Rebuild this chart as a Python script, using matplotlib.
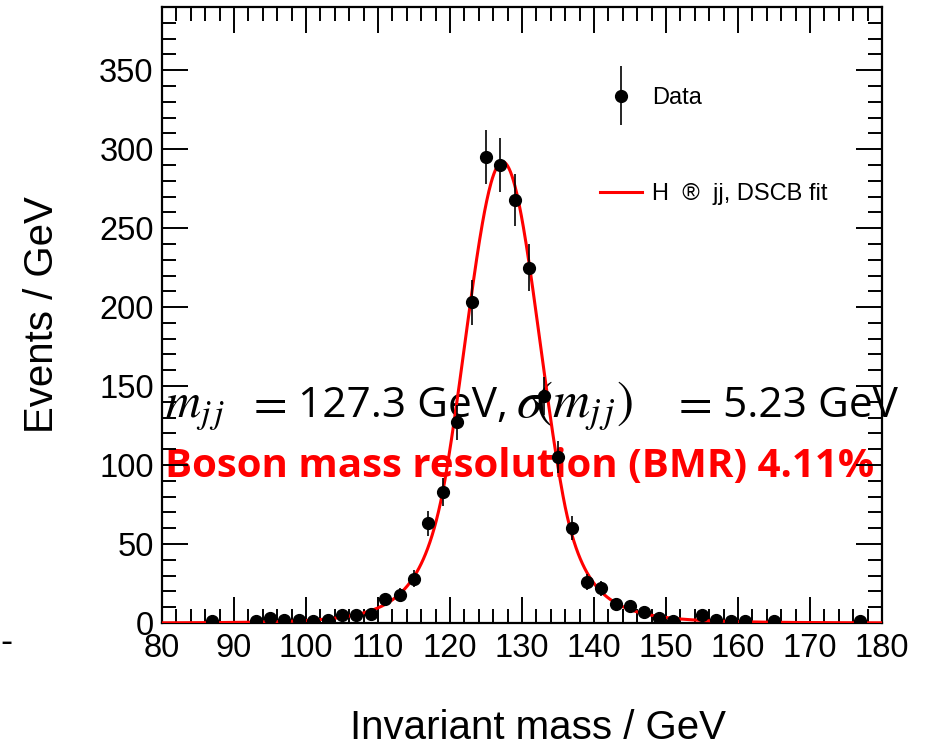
import numpy as np
import matplotlib
matplotlib.use("Agg")
import matplotlib.pyplot as plt
from matplotlib.ticker import MultipleLocator, FixedLocator
from matplotlib.legend_handler import HandlerErrorbar

# ---------------- data ----------------
mass_centers = [87, 93, 95, 97, 99, 101, 103, 105, 107, 109, 111, 113, 115, 117, 119,
                121, 123, 125, 127, 129, 131, 133, 135, 137, 139, 141, 143, 145, 147,
                149, 151, 155, 157, 159, 161, 165, 177]
events = [1, 1, 3, 2, 2, 1, 2, 5, 5, 6, 15, 18, 28, 63, 83,
          127, 203, 295, 290, 268, 225, 144, 105, 60, 26, 22, 12, 11, 7,
          3, 1, 5, 2, 1, 1, 1, 1]

# DSCB fit parameters
fit_mean = 127.3
fit_sigma = 5.23
fit_peak = 292.0
fit_alpha_lo = 1.5
fit_n_lo = 7.0
fit_alpha_hi = 1.6
fit_n_hi = 5.0

x_ticks = [80, 90, 100, 110, 120, 130, 140, 150, 160, 170, 180]
y_ticks = [0, 50, 100, 150, 200, 250, 300, 350]

# annotation line 1 as pieces: (text, font size, left edge in pixels)
line1_pieces = [(r"$m_{j\,j}$", 35, 165),
                (r"$=$", 35, 246),
                ("127.3 GeV,", 30.5, 298),
                (r"$\sigma\!\left(m_{j\,j}\right)$", 37, 516),
                (r"$=$", 35, 671),
                ("5.23 GeV", 30.5, 723)]
line2 = "Boson mass resolution (BMR) 4.11%"


def dscb(x, mu, sig, peak, aL, nL, aR, nR):
    t = (np.asarray(x, float) - mu) / sig
    out = np.exp(-0.5 * t ** 2)
    lo = t < -aL
    hi = t > aR
    AL = (nL / aL) ** nL * np.exp(-0.5 * aL ** 2)
    BL = nL / aL - aL
    AR = (nR / aR) ** nR * np.exp(-0.5 * aR ** 2)
    BR = nR / aR - aR
    out[lo] = AL * (BL - t[lo]) ** (-nL)
    out[hi] = AR * (BR + t[hi]) ** (-nR)
    return peak * out


plt.rcParams['mathtext.fontset'] = 'stix'

W, H = 925, 747
fig = plt.figure(figsize=(W / 100, H / 100), dpi=100)
ax = fig.add_axes([162 / W, 1 - 623 / H, 720 / W, 616 / H])

xs = np.linspace(80, 180, 1001)
fit_line, = ax.plot(xs, dscb(xs, fit_mean, fit_sigma, fit_peak, fit_alpha_lo, fit_n_lo,
                             fit_alpha_hi, fit_n_hi),
                    color='#ff0000', lw=2.2, zorder=3, clip_on=True)

ev = np.array(events, float)
data_cont = ax.errorbar(mass_centers, ev, yerr=np.sqrt(ev), fmt='o', color='black',
                        ms=8.5, elinewidth=1.2, capsize=0, zorder=4)

ax.set_xlim(80, 180)
ax.set_ylim(0, 390)

tick_font = dict(family=['Liberation Sans', 'DejaVu Sans'], size=23.5)
ax.xaxis.set_major_locator(FixedLocator(x_ticks))
ax.yaxis.set_major_locator(FixedLocator(y_ticks))
ax.xaxis.set_minor_locator(MultipleLocator(2))
ax.yaxis.set_minor_locator(MultipleLocator(10))
ax.set_xticklabels([str(v) for v in x_ticks], fontdict=tick_font)
ax.set_yticklabels([str(v) for v in y_ticks], fontdict=tick_font)
ax.tick_params(which='both', direction='in', top=True, right=True, color='black', width=1.4)
ax.tick_params(which='major', length=19)
ax.tick_params(which='minor', length=10)
ax.tick_params(axis='x', which='major', pad=7.5)
ax.tick_params(axis='y', which='major', pad=6)
for s in ax.spines.values():
    s.set_linewidth(1.6)

lab_font = dict(family=['Liberation Sans', 'DejaVu Sans'], size=29)
ax.set_xlabel("Invariant mass / GeV", fontdict=lab_font)
ax.set_ylabel("Events / GeV", fontdict=lab_font)
ax.xaxis.set_label_coords((537.5 - 162) / 720, (623 - 709) / 616)
ax.yaxis.set_label_coords((61 - 162) / 720, 0.5)

# annotations (behind the data)
for txt, fs, px in line1_pieces:
    xd = 80 + (px - 162) / 7.2
    ax.text(xd, 130.4, txt, fontsize=fs,
            family=['Open Sans', 'DejaVu Sans'], color='black',
            ha='left', va='baseline', zorder=1)
ax.text(80.4, 92.3, line2, fontsize=29, family=['Open Sans', 'DejaVu Sans'], weight='bold',
        color='#ff0000', ha='left', va='baseline', zorder=1)

leg = ax.legend([data_cont, fit_line], ["Data", "H  \u00ae  jj, DSCB fit"],
                loc='upper left', bbox_to_anchor=((600 - 162) / 720, (622.7 - 87) / 615.4),
                frameon=False, borderpad=0, borderaxespad=0, handlelength=1.78,
                handletextpad=0.42, labelspacing=3.15,
                prop=dict(family=['Liberation Sans', 'DejaVu Sans'], size=17),
                handler_map={type(data_cont): HandlerErrorbar(yerr_size=1.25)})

fig.text(0.0, 1 - 652 / H, "-", fontsize=26, family=['Liberation Sans', 'DejaVu Sans'],
         ha='left', va='baseline')

fig.savefig("out.png", dpi=100)
